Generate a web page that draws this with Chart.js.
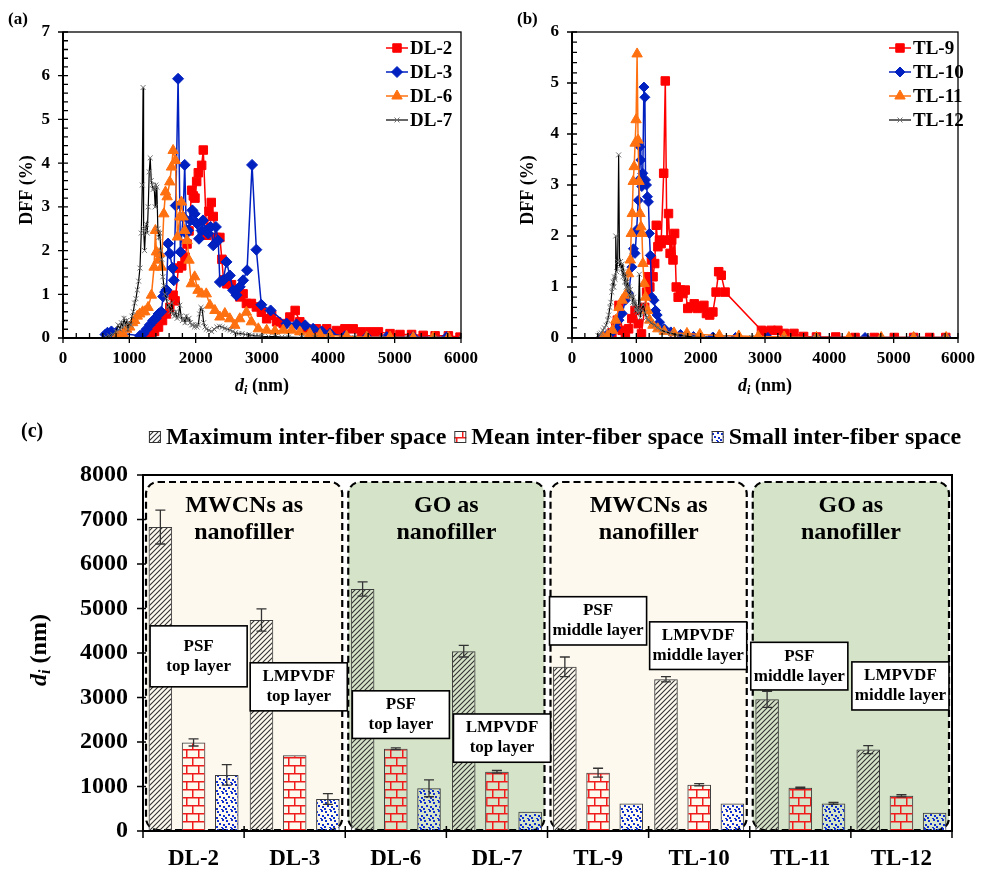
<!DOCTYPE html>
<html>
<head>
<meta charset="utf-8">
<title>Inter-fiber space distribution</title>
<script src="https://cdn.jsdelivr.net/npm/chart.js@4.4.1/dist/chart.umd.min.js"></script>
<style>
  html, body { margin: 0; padding: 0; background: #fff; }
  .panel { position: absolute; }
</style>
</head>
<body>
<canvas id="dffDL" class="panel" style="left:0;top:0;width:490px;height:405px" width="490" height="405"></canvas>
<canvas id="dffTL" class="panel" style="left:490px;top:0;width:495px;height:405px" width="495" height="405"></canvas>
<canvas id="spaceChart" class="panel" style="left:0;top:405px;width:985px;height:464px" width="985" height="464"></canvas>
<script>
const SERIF = '"Liberation Serif", "Times New Roman", serif';

// ---- panel (a): double-layer membranes ----
const diTicks = [0, 1000, 2000, 3000, 4000, 5000, 6000];
const dffTicksDL = [0, 1, 2, 3, 4, 5, 6, 7];
const dffTicksTL = [0, 1, 2, 3, 4, 5, 6];

const dl2X = [1200, 1260, 1320, 1380, 1440, 1500, 1560, 1610, 1660, 1690, 1740, 1790, 1840, 1870, 1900, 1940, 1965, 1990, 2015, 2040, 2090, 2115, 2165, 2200, 2235, 2265, 2310, 2365, 2395, 2420, 2470, 2540, 2615, 2665, 2715, 2765, 2840, 2915, 2990, 3070, 3145, 3220, 3320, 3420, 3500, 3570, 3670, 3820, 3975, 4125, 4250, 4375, 4500, 4630, 4755, 4930, 5080, 5255, 5430, 5610, 5810, 5985];
const dl2Y = [0.02, 0.05, 0.1, 0.15, 0.25, 0.4, 0.55, 0.7, 0.98, 0.85, 1.6, 1.65, 1.85, 2.15, 2.45, 3.38, 3.25, 3.2, 3.58, 3.78, 3.95, 4.3, 2.35, 2.9, 3.1, 2.78, 2.3, 2.3, 1.8, 1.33, 1.24, 1.22, 1.09, 0.94, 1.01, 0.79, 0.79, 0.71, 0.59, 0.44, 0.52, 0.37, 0.33, 0.48, 0.63, 0.37, 0.21, 0.21, 0.21, 0.17, 0.21, 0.21, 0.14, 0.14, 0.14, 0.1, 0.08, 0.08, 0.06, 0.05, 0.05, 0.02];

const dl3X = [640, 670, 700, 730, 760, 800, 1160, 1210, 1260, 1310, 1360, 1400, 1440, 1480, 1510, 1540, 1560, 1585, 1610, 1650, 1670, 1700, 1735, 1770, 1810, 1835, 1860, 1885, 1920, 1950, 1985, 2020, 2050, 2090, 2110, 2150, 2190, 2225, 2265, 2305, 2340, 2365, 2415, 2465, 2515, 2565, 2615, 2665, 2715, 2775, 2850, 2915, 2990, 3130, 3370, 3520, 3650, 3770, 3900, 4025, 4250, 4580, 4880, 5280, 5785];
const dl3Y = [0.08, 0.12, 0.1, 0.15, 0.1, 0.12, 0.05, 0.1, 0.2, 0.3, 0.4, 0.45, 0.55, 0.6, 0.95, 1.05, 1.1, 2.16, 1.93, 1.6, 1.32, 3.03, 5.93, 1.97, 2.77, 3.96, 2.39, 2.46, 2.69, 2.92, 2.84, 2.62, 2.27, 2.46, 2.69, 2.46, 2.39, 2.54, 2.12, 2.54, 2.23, 1.28, 1.32, 1.74, 1.43, 1.09, 0.98, 1.17, 1.32, 1.55, 3.96, 2.02, 0.76, 0.63, 0.33, 0.31, 0.29, 0.21, 0.15, 0.1, 0.04, 0.02, 0.02, 0.02, 0.02];

const dl6X = [805, 860, 905, 960, 1006, 1050, 1081, 1120, 1157, 1200, 1232, 1283, 1333, 1373, 1393, 1408, 1434, 1460, 1484, 1520, 1545, 1570, 1610, 1635, 1660, 1695, 1725, 1760, 1785, 1810, 1835, 1870, 1900, 1935, 1985, 2035, 2090, 2160, 2215, 2290, 2365, 2440, 2515, 2590, 2665, 2765, 2840, 2945, 3070, 3195, 3320, 3445, 3570, 3720, 3875, 4025, 4275, 4580, 4930, 5280, 5580, 5810];
const dl6Y = [0.05, 0.08, 0.1, 0.2, 0.25, 0.35, 0.4, 0.5, 0.55, 0.6, 0.6, 0.7, 0.98, 1.62, 2.46, 1.97, 1.78, 1.93, 1.62, 2.84, 3.34, 3.23, 3.57, 3.91, 4.29, 4.06, 2.31, 2.77, 3.11, 2.77, 2.46, 2.23, 1.78, 1.24, 1.4, 1.09, 1.01, 1.01, 0.75, 0.63, 0.48, 0.56, 0.44, 0.29, 0.44, 0.59, 0.37, 0.21, 0.18, 0.16, 0.18, 0.18, 0.14, 0.1, 0.08, 0.06, 0.04, 0.02, 0.02, 0.01, 0.01, 0.01];

const dl7X = [650, 700, 750, 800, 830, 860, 880, 900, 920, 940, 960, 980, 1000, 1020, 1040, 1060, 1080, 1100, 1120, 1140, 1160, 1180, 1195, 1207, 1215, 1230, 1245, 1258, 1270, 1285, 1300, 1315, 1330, 1345, 1360, 1375, 1390, 1400, 1415, 1430, 1445, 1460, 1475, 1490, 1505, 1520, 1540, 1560, 1580, 1600, 1620, 1640, 1660, 1680, 1700, 1720, 1740, 1760, 1780, 1800, 1820, 1840, 1860, 1880, 1900, 1920, 1940, 1960, 1980, 2000, 2020, 2040, 2060, 2080, 2100, 2120, 2140, 2160, 2200, 2240, 2280, 2320, 2360, 2400, 2440, 2480, 2520, 2560, 2600, 2650, 2700, 2750, 2800, 2850, 2900, 2950, 3000, 3100, 3200, 3300, 3400, 3600, 3800, 4000, 4400, 4800, 5200, 5600, 6000];
const dl7Y = [0.02, 0.05, 0.08, 0.15, 0.3, 0.2, 0.35, 0.25, 0.45, 0.3, 0.4, 0.2, 0.35, 0.3, 0.5, 0.6, 0.8, 0.9, 1.1, 1.3, 1.6, 2.4, 3.5, 5.73, 2.5, 2.0, 2.5, 2.6, 2.4, 3.0, 3.8, 4.12, 3.6, 3.5, 3.4, 3.45, 3.0, 3.5, 3.45, 2.5, 2.3, 2.4, 2.0, 1.8, 1.4, 1.2, 1.0, 0.9, 0.7, 0.75, 0.6, 0.8, 0.55, 0.5, 0.6, 0.45, 0.5, 0.75, 0.5, 0.4, 0.45, 0.35, 0.5, 0.4, 0.45, 0.35, 0.3, 0.3, 0.25, 0.3, 0.25, 0.3, 0.55, 0.7, 0.65, 0.35, 0.25, 0.2, 0.18, 0.15, 0.2, 0.25, 0.27, 0.25, 0.22, 0.2, 0.18, 0.15, 0.12, 0.1, 0.1, 0.08, 0.07, 0.06, 0.05, 0.05, 0.04, 0.03, 0.03, 0.02, 0.02, 0.01, 0.01, 0.01, 0.01, 0.01, 0.01, 0, 0];

// ---- panel (b): triple-layer membranes ----
const tl9X = [560, 620, 680, 705, 730, 780, 830, 880, 930, 980, 1030, 1080, 1130, 1160, 1180, 1210, 1235, 1260, 1285, 1310, 1335, 1360, 1385, 1425, 1450, 1475, 1500, 1525, 1550, 1570, 1595, 1620, 1650, 1685, 1725, 1760, 1800, 1845, 1900, 1950, 2000, 2050, 2090, 2140, 2190, 2240, 2280, 2320, 2380, 2945, 3020, 3095, 3200, 3300, 3450, 3600, 3800, 4100, 4400, 4700, 5010, 5310, 5560, 5810];
const tl9Y = [0.02, 0.1, 0.2, 0.35, 0.64, 0.15, 0.1, 0.18, 0.38, 0.54, 0.28, 0.08, 0.6, 0.9, 1.2, 1.0, 1.53, 1.2, 1.46, 2.21, 1.79, 1.92, 1.85, 3.23, 5.04, 1.92, 2.44, 1.66, 1.92, 1.53, 2.05, 1.0, 0.8, 0.94, 0.87, 0.94, 0.58, 0.61, 0.67, 0.58, 0.61, 0.64, 0.48, 0.45, 0.51, 0.9, 1.3, 1.23, 0.9, 0.15, 0.12, 0.15, 0.15, 0.09, 0.09, 0.03, 0.02, 0.02, 0.01, 0.01, 0.01, 0.01, 0.01, 0.01];

const tl10X = [480, 530, 580, 630, 680, 730, 780, 830, 880, 930, 955, 980, 1005, 1030, 1040, 1057, 1070, 1085, 1100, 1118, 1133, 1143, 1158, 1173, 1188, 1203, 1218, 1243, 1274, 1299, 1324, 1360, 1435, 1535, 1686, 1888, 2190, 2542, 3045, 3800, 4555, 5310, 5815];
const tl10Y = [0.03, 0.05, 0.08, 0.12, 0.2, 0.35, 0.48, 0.74, 0.87, 1.39, 1.75, 1.66, 2.12, 2.7, 3.1, 3.75, 3.49, 2.97, 3.23, 4.92, 4.72, 3.1, 3.0, 2.77, 2.67, 2.05, 1.62, 0.8, 0.74, 0.54, 0.45, 0.31, 0.18, 0.12, 0.07, 0.03, 0.02, 0.01, 0.01, 0.01, 0.01, 0.01, 0.01];

const tl11X = [480, 554, 630, 680, 730, 780, 830, 880, 906, 921, 936, 951, 966, 981, 996, 1012, 1027, 1042, 1057, 1072, 1087, 1102, 1122, 1143, 1173, 1208, 1258, 1334, 1435, 1586, 1787, 1988, 2290, 2592, 2894, 3297, 3800, 4304, 4807, 5310, 5815];
const tl11Y = [0.02, 0.05, 0.15, 0.35, 0.6, 0.74, 0.84, 1.26, 1.53, 2.05, 2.44, 3.07, 3.36, 3.82, 4.28, 5.57, 3.88, 3.07, 2.44, 2.18, 2.05, 1.46, 1.07, 0.8, 0.54, 0.35, 0.25, 0.18, 0.13, 0.1, 0.09, 0.07, 0.05, 0.04, 0.03, 0.02, 0.01, 0.01, 0.01, 0.01, 0.01];

const tl12X = [403, 430, 453, 480, 503, 530, 554, 570, 589, 605, 619, 630, 639, 650, 659, 670, 680, 695, 710, 725, 740, 755, 770, 780, 792, 805, 818, 830, 843, 856, 868, 881, 893, 906, 918, 931, 943, 956, 968, 981, 994, 1007, 1020, 1032, 1047, 1062, 1082, 1107, 1133, 1158, 1183, 1233, 1284, 1334, 1384, 1460, 1535, 1636, 1737, 1888, 2089, 2391, 2794, 3297, 3800, 4807, 5815];
const tl12Y = [0.05, 0.08, 0.1, 0.15, 0.2, 0.25, 0.35, 0.45, 0.6, 0.7, 0.9, 1.0, 1.1, 1.0, 1.2, 1.15, 2.0, 1.3, 1.5, 3.59, 1.4, 1.5, 1.35, 1.45, 1.2, 1.3, 1.1, 1.2, 1.0, 1.1, 0.95, 1.0, 0.85, 0.95, 0.8, 0.85, 0.7, 0.8, 0.65, 0.7, 0.55, 0.6, 0.5, 0.55, 1.25, 0.4, 0.55, 0.65, 0.5, 0.4, 0.35, 0.3, 0.25, 0.2, 0.15, 0.12, 0.09, 0.06, 0.04, 0.02, 0.01, 0.01, 0.01, 0.01, 0, 0, 0];

// ---- panel (c): inter-fiber space per membrane ----
const samples = ['DL-2', 'DL-3', 'DL-6', 'DL-7', 'TL-9', 'TL-10', 'TL-11', 'TL-12'];
const maxSpace = [6830, 4740, 5440, 4040, 3690, 3410, 2960, 1830];
const maxErr = [380, 250, 160, 130, 220, 60, 180, 90];
const meanSpace = [1990, 1700, 1850, 1330, 1310, 1040, 970, 790];
const meanErr = [80, 0, 20, 30, 100, 25, 15, 25];
const smallSpace = [1260, 720, 960, 430, 620, 620, 620, 410];
const smallErr = [230, 120, 190, 0, 0, 0, 20, 0];
const spaceTicks = [0, 1000, 2000, 3000, 4000, 5000, 6000, 7000, 8000];
const spaceLabels = ['Maximum inter-fiber space', 'Mean inter-fiber space', 'Small inter-fiber space'];

const groupTitles = [['MWCNs as', 'nanofiller'], ['GO as', 'nanofiller'], ['MWCNs as', 'nanofiller'], ['GO as', 'nanofiller']];
const noteLines = [
  ['PSF', 'top layer'], ['LMPVDF', 'top layer'], ['PSF', 'top layer'], ['LMPVDF', 'top layer'],
  ['PSF', 'middle layer'], ['LMPVDF', 'middle layer'], ['PSF', 'middle layer'], ['LMPVDF', 'middle layer']
];

// ---- styles ----
const dlStyle = [
  { label: 'DL-2', color: '#ff0000', marker: 'rect', radius: 6, width: 1.5 },
  { label: 'DL-3', color: '#0020c0', marker: 'rectRot', radius: 5.5, width: 1.5 },
  { label: 'DL-6', color: '#ff7010', marker: 'triangle', radius: 6, width: 1.5 },
  { label: 'DL-7', color: '#000000', mark: '#707070', marker: 'crossRot', radius: 3.5, width: 1.2 }
];
const tlStyle = [
  { label: 'TL-9', color: '#ff0000', marker: 'rect', radius: 6, width: 1.5 },
  { label: 'TL-10', color: '#0020c0', marker: 'rectRot', radius: 5, width: 1.5 },
  { label: 'TL-11', color: '#ff7010', marker: 'triangle', radius: 6, width: 1.5 },
  { label: 'TL-12', color: '#000000', mark: '#707070', marker: 'crossRot', radius: 3.5, width: 1.2 }
];
const beige = '#fdf9ee';
const green = '#d5e3c9';

// italic d with subscript i, then " (nm)"
function drawDiTitle(ctx, cx, cy, size, vertical) {
  const parts = [
    { t: 'd', font: `italic bold ${size}px ${SERIF}`, dy: 0 },
    { t: 'i', font: `italic bold ${Math.round(size * 0.65)}px ${SERIF}`, dy: size * 0.25 },
    { t: ' (nm)', font: `bold ${size}px ${SERIF}`, dy: 0 }
  ];
  ctx.save();
  ctx.translate(cx, cy);
  if (vertical) ctx.rotate(-Math.PI / 2);
  let w = 0;
  parts.forEach(p => { ctx.font = p.font; p.w = ctx.measureText(p.t).width; w += p.w; });
  let x0 = -w / 2;
  ctx.fillStyle = '#000';
  ctx.textAlign = 'left';
  ctx.textBaseline = 'middle';
  parts.forEach(p => { ctx.font = p.font; ctx.fillText(p.t, x0, p.dy); x0 += p.w; });
  ctx.restore();
}

function tickList(values) {
  return scale => { scale.ticks = values.map(v => ({ value: v })); };
}
const plainLabel = v => String(v);

// frame, inward minor ticks, legend and titles for the DFF panels
function dffDecor(o) {
  return {
    id: 'dffDecor',
    afterDraw(chart) {
      const { ctx, chartArea: a, scales: { x, y } } = chart;
      ctx.save();
      ctx.strokeStyle = '#000';
      ctx.lineWidth = 1.3;
      ctx.strokeRect(a.left, a.top, a.right - a.left, a.bottom - a.top);
      ctx.lineWidth = 2;
      ctx.beginPath();
      ctx.moveTo(a.left, a.top);
      ctx.lineTo(a.left, a.bottom);
      ctx.lineTo(a.right, a.bottom);
      ctx.stroke();

      ctx.lineWidth = 1.3;
      ctx.beginPath();
      const nx = Math.round((x.max - x.min) / o.xMinor);
      for (let i = 0; i <= nx; i++) {
        const px = x.getPixelForValue(x.min + i * o.xMinor);
        const major = i % o.xEvery === 0;
        ctx.moveTo(px, a.bottom - 5);
        ctx.lineTo(px, a.bottom + (major ? 5 : 0));
      }
      const ny = Math.round((y.max - y.min) / o.yMinor);
      for (let i = 0; i <= ny; i++) {
        const py = y.getPixelForValue(y.min + i * o.yMinor);
        const major = i % o.yEvery === 0;
        ctx.moveTo(a.left - (major ? 5 : 0), py);
        ctx.lineTo(a.left + 5, py);
      }
      ctx.stroke();

      // legend: line segment with marker, then name
      chart.data.datasets.forEach((ds, i) => {
        const ly = o.legendY + i * 24;
        ctx.strokeStyle = ds.borderColor;
        ctx.lineWidth = ds.borderWidth;
        ctx.beginPath();
        ctx.moveTo(o.legendX, ly);
        ctx.lineTo(o.legendX + 22, ly);
        ctx.stroke();
        ctx.fillStyle = ds.pointBackgroundColor;
        ctx.strokeStyle = ds.pointBorderColor;
        ctx.lineWidth = 1;
        Chart.helpers.drawPoint(ctx, { pointStyle: ds.pointStyle, radius: ds.pointRadius, rotation: 0, borderWidth: 1 }, o.legendX + 11, ly);
        ctx.fillStyle = '#000';
        ctx.font = `bold 19px ${SERIF}`;
        ctx.textAlign = 'left';
        ctx.textBaseline = 'middle';
        ctx.fillText(ds.label, o.legendX + 24, ly + 1);
      });

      ctx.fillStyle = '#000';
      ctx.font = `bold 17px ${SERIF}`;
      ctx.textAlign = 'left';
      ctx.textBaseline = 'middle';
      ctx.fillText(o.tag, o.tagX, 20);

      ctx.save();
      ctx.translate(o.yTitleX, 190);
      ctx.rotate(-Math.PI / 2);
      ctx.textAlign = 'center';
      ctx.font = `bold 18px ${SERIF}`;
      ctx.fillText('DFF (%)', 0, 0);
      ctx.restore();

      drawDiTitle(ctx, (a.left + a.right) / 2, 386, 18, false);
      ctx.restore();
    }
  };
}

function dffChart(id, xs, ys, styles, yTicks, layout, decor) {
  return new Chart(document.getElementById(id), {
    type: 'scatter',
    data: {
      datasets: styles.map((s, i) => ({
        label: s.label,
        data: xs[i].map((v, k) => ({ x: v, y: ys[i][k] })),
        showLine: true,
        borderColor: s.color,
        borderWidth: s.width,
        backgroundColor: s.color,
        pointBackgroundColor: s.mark || s.color,
        pointBorderColor: s.mark || s.color,
        pointBorderWidth: 1,
        pointStyle: s.marker,
        pointRadius: s.radius,
        order: styles.length - i
      }))
    },
    options: {
      responsive: false,
      animation: false,
      layout: { padding: layout.padding },
      plugins: { legend: { display: false }, tooltip: { enabled: false } },
      scales: {
        x: {
          type: 'linear', min: 0, max: 6000,
          afterBuildTicks: tickList(diTicks),
          afterFit: s => { s.height = layout.xHeight; },
          grid: { display: false, drawTicks: false },
          border: { display: false },
          ticks: { color: '#000', padding: 10, callback: plainLabel, font: { family: SERIF, size: 17, weight: 'bold' } }
        },
        y: {
          min: 0, max: yTicks[yTicks.length - 1],
          afterBuildTicks: tickList(yTicks),
          afterFit: s => { s.width = layout.yWidth; },
          grid: { display: false, drawTicks: false },
          border: { display: false },
          ticks: { color: '#000', padding: 13, callback: plainLabel, font: { family: SERIF, size: 17, weight: 'bold' } }
        }
      }
    },
    plugins: [dffDecor(decor)]
  });
}

dffChart('dffDL', [dl2X, dl3X, dl6X, dl7X], [dl2Y, dl3Y, dl6Y, dl7Y], dlStyle, dffTicksDL,
  { padding: { left: 0, top: 32, right: 29, bottom: 0 }, xHeight: 67, yWidth: 63 },
  { xMinor: 200, xEvery: 5, yMinor: 0.2, yEvery: 5, legendX: 386, legendY: 48, tag: '(a)', tagX: 8, yTitleX: 27 });

dffChart('dffTL', [tl9X, tl10X, tl11X, tl12X], [tl9Y, tl10Y, tl11Y, tl12Y], tlStyle, dffTicksTL,
  { padding: { left: 0, top: 32, right: 16, bottom: 0 }, xHeight: 67, yWidth: 82 },
  { xMinor: 200, xEvery: 5, yMinor: 0.2, yEvery: 5, legendX: 399, legendY: 48, tag: '(b)', tagX: 27, yTitleX: 38 });

// ---- bar chart fills ----
const spaceCanvas = document.getElementById('spaceChart');
const spaceCtx = spaceCanvas.getContext('2d');

function makePattern(w, h, paint) {
  const tile = document.createElement('canvas');
  tile.width = w;
  tile.height = h;
  paint(tile.getContext('2d'));
  return spaceCtx.createPattern(tile, 'repeat');
}

const hatchFill = makePattern(5, 5, g => {
  g.strokeStyle = '#333';
  g.lineWidth = 1.1;
  g.beginPath();
  g.moveTo(0, 5); g.lineTo(5, 0);
  g.moveTo(-1, 1); g.lineTo(1, -1);
  g.moveTo(4, 6); g.lineTo(6, 4);
  g.stroke();
});
const brickFill = makePattern(12, 16, g => {
  g.strokeStyle = '#f01c1c';
  g.lineWidth = 1.5;
  g.beginPath();
  g.moveTo(0, 0.75); g.lineTo(12, 0.75);
  g.moveTo(0, 8.75); g.lineTo(12, 8.75);
  g.moveTo(0.75, 0); g.lineTo(0.75, 8.75);
  g.moveTo(6.75, 8.75); g.lineTo(6.75, 16);
  g.stroke();
});
const dotFill = makePattern(9, 9, g => {
  g.fillStyle = '#1030d0';
  [[1, 1], [6, 0], [3, 4], [7, 5], [0, 7], [5, 8]].forEach(([px, py]) => g.fillRect(px, py, 2, 2));
});

function roundRectPath(ctx, x, y, w, h, r) {
  ctx.beginPath();
  ctx.moveTo(x + r, y);
  ctx.arcTo(x + w, y, x + w, y + h, r);
  ctx.arcTo(x + w, y + h, x, y + h, r);
  ctx.arcTo(x, y + h, x, y, r);
  ctx.arcTo(x, y, x + w, y, r);
  ctx.closePath();
}

const spaceDecor = {
  id: 'spaceDecor',
  beforeDatasetsDraw(chart) {
    const { ctx, chartArea: a, scales: { x } } = chart;
    const cw = x.getPixelForValue(1) - x.getPixelForValue(0);
    ctx.save();
    groupTitles.forEach((lines, g) => {
      const left = x.getPixelForValue(g * 2) - cw / 2 + 3;
      const right = x.getPixelForValue(g * 2 + 1) + cw / 2 - 3;
      roundRectPath(ctx, left, a.top + 7, right - left, a.bottom - a.top - 8, 12);
      ctx.fillStyle = g % 2 === 0 ? beige : green;
      ctx.fill();
      ctx.setLineDash([7, 4]);
      ctx.lineWidth = 2.2;
      ctx.strokeStyle = '#000';
      ctx.stroke();
      ctx.setLineDash([]);
      ctx.fillStyle = '#000';
      ctx.font = `bold 24px ${SERIF}`;
      ctx.textAlign = 'center';
      ctx.textBaseline = 'middle';
      ctx.fillText(lines[0], (left + right) / 2, a.top + 31);
      ctx.fillText(lines[1], (left + right) / 2, a.top + 58);
    });
    ctx.restore();
  },
  afterDatasetsDraw(chart) {
    const { ctx, scales: { x, y } } = chart;
    const errs = [maxErr, meanErr, smallErr];
    ctx.save();
    ctx.strokeStyle = '#333';
    ctx.lineWidth = 1.3;
    chart.data.datasets.forEach((ds, i) => {
      chart.getDatasetMeta(i).data.forEach((bar, k) => {
        const e = errs[i][k];
        if (!e) return;
        const top = y.getPixelForValue(ds.data[k] + e);
        const bot = y.getPixelForValue(ds.data[k] - e);
        ctx.beginPath();
        ctx.moveTo(bar.x, top); ctx.lineTo(bar.x, bot);
        ctx.moveTo(bar.x - 5, top); ctx.lineTo(bar.x + 5, top);
        ctx.moveTo(bar.x - 5, bot); ctx.lineTo(bar.x + 5, bot);
        ctx.stroke();
      });
    });

    // layer captions, sitting over the bars
    const cw = x.getPixelForValue(1) - x.getPixelForValue(0);
    const noteTop = [4610, 3780, 3150, 2630, 5265, 4700, 4240, 3800];
    const noteBottom = [3240, 2700, 2080, 1545, 4180, 3630, 3170, 2720];
    const noteShift = [0.05, 0.04, 0.05, 0.05, 0, -0.01, -0.01, -0.01];
    noteLines.forEach((lines, k) => {
      const cx = x.getPixelForValue(k) + noteShift[k] * cw;
      const w = cw * 0.96;
      const t = y.getPixelForValue(noteTop[k]);
      const b = y.getPixelForValue(noteBottom[k]);
      ctx.fillStyle = '#fff';
      ctx.fillRect(cx - w / 2, t, w, b - t);
      ctx.strokeStyle = '#000';
      ctx.lineWidth = 1.6;
      ctx.strokeRect(cx - w / 2, t, w, b - t);
      ctx.fillStyle = '#000';
      ctx.font = `bold 17px ${SERIF}`;
      ctx.textAlign = 'center';
      ctx.textBaseline = 'middle';
      const cy = (t + b) / 2;
      ctx.fillText(lines[0], cx, cy - 10);
      ctx.fillText(lines[1], cx, cy + 10);
    });
    ctx.restore();
  },
  afterDraw(chart) {
    const { ctx, chartArea: a, scales: { x, y } } = chart;
    const cw = x.getPixelForValue(1) - x.getPixelForValue(0);
    ctx.save();
    ctx.strokeStyle = '#000';
    ctx.lineWidth = 2;
    ctx.strokeRect(a.left, a.top, a.right - a.left, a.bottom - a.top);
    ctx.lineWidth = 1.5;
    ctx.beginPath();
    for (let k = 0; k <= samples.length; k++) {
      const px = x.getPixelForValue(k) - cw / 2;
      ctx.moveTo(px, a.bottom - 5);
      ctx.lineTo(px, a.bottom + 7);
    }
    spaceTicks.forEach(v => {
      const py = y.getPixelForValue(v);
      ctx.moveTo(a.left - 6, py);
      ctx.lineTo(a.left + 3, py);
    });
    ctx.stroke();

    // legend with pattern swatches
    const fills = [hatchFill, brickFill, dotFill];
    ctx.font = `bold 24px ${SERIF}`;
    const widths = spaceLabels.map(t => ctx.measureText(t).width);
    const total = widths.reduce((s, w) => s + w + 19, 0) + 2 * 6;
    let lx = 556 - total / 2;
    spaceLabels.forEach((t, i) => {
      ctx.fillStyle = '#fff';
      ctx.fillRect(lx, 26, 12, 12);
      ctx.fillStyle = fills[i];
      ctx.fillRect(lx, 26, 12, 12);
      ctx.strokeStyle = '#333';
      ctx.lineWidth = 1;
      ctx.strokeRect(lx + 0.5, 26.5, 11, 11);
      ctx.fillStyle = '#000';
      ctx.textAlign = 'left';
      ctx.textBaseline = 'middle';
      ctx.fillText(t, lx + 17, 33);
      lx += widths[i] + 19 + 6;
    });

    ctx.font = `bold 20px ${SERIF}`;
    ctx.fillText('(c)', 21, 27);
    drawDiTitle(ctx, 40, 245, 24, true);
    ctx.restore();
  }
};

new Chart(spaceCanvas, {
  type: 'bar',
  data: {
    labels: samples,
    datasets: [
      { label: spaceLabels[0], data: maxSpace, backgroundColor: hatchFill },
      { label: spaceLabels[1], data: meanSpace, backgroundColor: brickFill },
      { label: spaceLabels[2], data: smallSpace, backgroundColor: dotFill }
    ].map(ds => Object.assign(ds, {
      borderColor: '#3c3c3c', borderWidth: 1, categoryPercentage: 0.985, barPercentage: 0.71
    }))
  },
  options: {
    responsive: false,
    animation: false,
    layout: { padding: { left: 0, top: 70, right: 33, bottom: 0 } },
    plugins: { legend: { display: false }, tooltip: { enabled: false } },
    scales: {
      x: {
        afterFit: s => { s.height = 38; },
        grid: { display: false, drawTicks: false },
        border: { display: false },
        ticks: { color: '#000', padding: 14, maxRotation: 0, autoSkip: false, font: { family: SERIF, size: 23, weight: 'bold' } }
      },
      y: {
        min: 0, max: 8000,
        afterBuildTicks: tickList(spaceTicks),
        afterFit: s => { s.width = 143; },
        grid: { display: false, drawTicks: false },
        border: { display: false },
        ticks: { color: '#000', padding: 15, callback: plainLabel, font: { family: SERIF, size: 24, weight: 'bold' } }
      }
    }
  },
  plugins: [spaceDecor]
});
</script>
</body>
</html>
